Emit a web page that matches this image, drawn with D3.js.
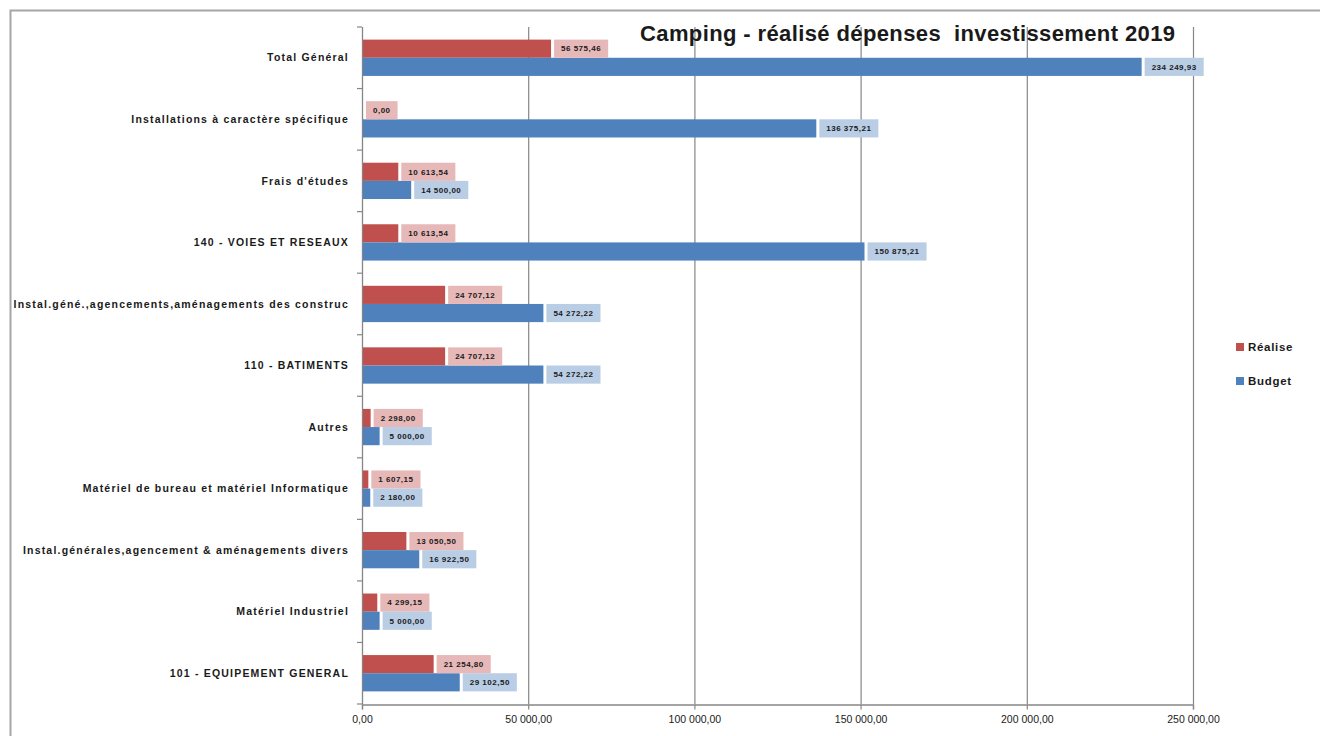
<!DOCTYPE html>
<html>
<head>
<meta charset="utf-8">
<script src="https://cdn.jsdelivr.net/npm/d3@7"></script>
<style>
  html, body { margin: 0; padding: 0; background: #ffffff; }
  svg { display: block; }
</style>
</head>
<body>
<svg id="chart" width="1320" height="736"></svg>
<script>
// Categories, top to bottom
const categories = [
  "Total Général",
  "Installations à caractère spécifique",
  "Frais d'études",
  "140 - VOIES ET RESEAUX",
  "Instal.géné.,agencements,aménagements des construc",
  "110 - BATIMENTS",
  "Autres",
  "Matériel de bureau et matériel Informatique",
  "Instal.générales,agencement & aménagements divers",
  "Matériel Industriel",
  "101 - EQUIPEMENT GENERAL"
];

// Series values (euros)
const realise = [56575.46, 0, 10613.54, 10613.54, 24707.12, 24707.12, 2298.00, 1607.15, 13050.50, 4299.15, 21254.80];
const budget  = [234249.93, 136375.21, 14500.00, 150875.21, 54272.22, 54272.22, 5000.00, 2180.00, 16922.50, 5000.00, 29102.50];

const seriesNames = ["Réalise", "Budget"];
const xTicks = [0, 50000, 100000, 150000, 200000, 250000];
const title = "Camping - réalisé dépenses  investissement 2019";

const colors = { "Réalise": "#c0504d", "Budget": "#4f81bd" };
const labelBg = { "Réalise": "#e6b9b8", "Budget": "#b9cde5" };

const fr = d3.formatLocale({ decimal: ",", thousands: "\u00a0", grouping: [3], currency: ["", " €"] });
const fmt = fr.format(",.2f");

const rows = categories.map((c, i) => ({ cat: c, values: [
  { key: "Réalise", value: realise[i] },
  { key: "Budget", value: budget[i] }
]}));

const svg = d3.select("#chart");

// Outer frame
svg.append("rect")
  .attr("x", 10.5).attr("y", 10.5)
  .attr("width", 1330).attr("height", 740)
  .attr("fill", "#ffffff").attr("stroke", "#a6a6a6").attr("stroke-width", 2);

const x = d3.scaleLinear().domain([0, 250000]).range([362, 1193]);
const y = d3.scaleBand().domain(categories).range([27, 704]).paddingInner(0.41).paddingOuter(0.205);
const ySub = d3.scaleBand().domain(seriesNames).range([0, y.bandwidth()]);

// Vertical gridlines
svg.append("g").selectAll("line")
  .data(xTicks.slice(1))
  .join("line")
  .attr("x1", d => x(d) + 0.5).attr("x2", d => x(d) + 0.5)
  .attr("y1", 27).attr("y2", 704)
  .attr("stroke", "#868686").attr("stroke-width", 1.2);

// Bottom axis
const xAxis = d3.axisBottom(x)
  .tickValues(xTicks)
  .tickSize(5)
  .tickPadding(6)
  .tickFormat(d => fmt(d));
const gx = svg.append("g").attr("transform", "translate(0,704.5)").call(xAxis);
gx.select(".domain").attr("stroke", "#868686").attr("stroke-width", 1.3);
gx.selectAll(".tick line").attr("stroke", "#868686").attr("stroke-width", 1.2);
gx.selectAll(".tick text")
  .attr("font-family", "'Liberation Sans Narrow', 'Liberation Sans', Arial, sans-serif")
  .attr("font-size", 10.5)
  .attr("fill", "#1a1a1a");

// Left axis with ticks between categories
const bounds = d3.range(categories.length + 1).map(i => 27 + i * (677 / categories.length));
const gy = svg.append("g");
gy.append("line")
  .attr("x1", 362.5).attr("x2", 362.5).attr("y1", 27).attr("y2", 704)
  .attr("stroke", "#868686").attr("stroke-width", 1.3);
gy.selectAll("line.tk")
  .data(bounds)
  .join("line").attr("class", "tk")
  .attr("x1", 357).attr("x2", 362)
  .attr("y1", d => d).attr("y2", d => d)
  .attr("stroke", "#868686").attr("stroke-width", 1.2);

// Category labels
svg.append("g").selectAll("text")
  .data(categories)
  .join("text")
  .attr("x", 349)
  .attr("y", d => y(d) + y.bandwidth() / 2)
  .attr("dy", "0.35em")
  .attr("text-anchor", "end")
  .attr("font-family", "'Liberation Sans', Arial, sans-serif")
  .attr("font-weight", "bold")
  .attr("font-size", 10.5)
  .attr("letter-spacing", "1.2px")
  .attr("fill", "#1a1a1a")
  .text(d => d);

// Bars
const groups = svg.append("g").selectAll("g")
  .data(rows)
  .join("g")
  .attr("transform", d => `translate(0,${y(d.cat)})`);

groups.selectAll("rect.bar")
  .data(d => d.values)
  .join("rect").attr("class", "bar")
  .attr("x", x(0) + 1)
  .attr("y", d => ySub(d.key))
  .attr("width", d => Math.max(0, x(d.value) - x(0)))
  .attr("height", ySub.bandwidth())
  .attr("fill", d => colors[d.key]);

// Value labels with tinted boxes
const labels = groups.selectAll("g.lbl")
  .data(d => d.values)
  .join("g").attr("class", "lbl");

labels.each(function(d) {
  const g = d3.select(this);
  const t = g.append("text")
    .attr("font-family", "'Liberation Sans', Arial, sans-serif")
    .attr("font-weight", "bold")
    .attr("font-size", 8)
    .attr("letter-spacing", "0.5px")
    .attr("fill", "#1a1a1a")
    .attr("dy", "0.35em")
    .text(fmt(d.value));
  const w = t.node().getComputedTextLength();
  const bx = x(d.value) + 4;
  const by = ySub(d.key);
  g.insert("rect", "text")
    .attr("x", bx).attr("y", by)
    .attr("width", w + 14).attr("height", ySub.bandwidth())
    .attr("fill", labelBg[d.key]);
  t.attr("x", bx + 7).attr("y", by + ySub.bandwidth() / 2);
});

// Title
svg.append("text")
  .attr("x", 640).attr("y", 41)
  .attr("font-family", "'Liberation Sans', Arial, sans-serif")
  .attr("font-weight", "bold")
  .attr("font-size", 22)
  .attr("textLength", 535)
  .attr("lengthAdjust", "spacing")
  .attr("fill", "#1a1a1a")
  .attr("xml:space", "preserve")
  .style("white-space", "pre")
  .text(title);

// Legend
const legend = svg.append("g").selectAll("g")
  .data(seriesNames)
  .join("g")
  .attr("transform", (d, i) => `translate(1236,${343 + i * 34})`);
legend.append("rect")
  .attr("width", 8).attr("height", 8)
  .attr("fill", d => colors[d]);
legend.append("text")
  .attr("x", 12).attr("y", 4).attr("dy", "0.35em")
  .attr("font-family", "'Liberation Sans', Arial, sans-serif")
  .attr("font-weight", "bold")
  .attr("font-size", 11.5)
  .attr("letter-spacing", "0.7px")
  .attr("fill", "#1a1a1a")
  .text(d => d);
</script>
</body>
</html>
